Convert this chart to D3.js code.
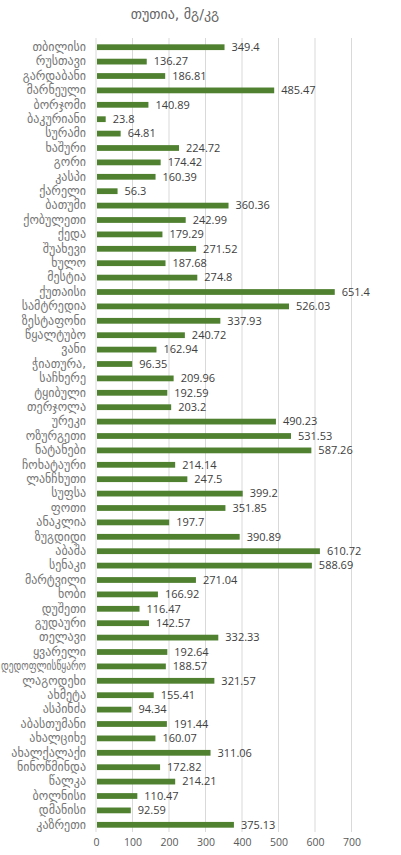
<!DOCTYPE html>
<html>
<head>
<meta charset="utf-8">
<script src="https://cdn.jsdelivr.net/npm/d3@7"></script>
<style>
  html, body { margin: 0; padding: 0; background: #ffffff; }
  svg { display: block; }
</style>
</head>
<body>
<svg id="chart" width="401" height="855"></svg>
<script>
const title = "თუთია, მგ/კგ";
const categories = [
  "თბილისი","რუსთავი","გარდაბანი","მარნეული","ბორჯომი","ბაკურიანი","სურამი","ხაშური","გორი","კასპი",
  "ქარელი","ბათუმი","ქობულეთი","ქედა","შუახევი","ხულო","მესტია","ქუთაისი","სამტრედია","ზესტაფონი",
  "წყალტუბო","ვანი","ჭიათურა,","საჩხერე","ტყიბული","თერჯოლა","ურეკი","ოზურგეთი","ნატანები","ჩოხატაური",
  "ლანჩხუთი","სუფსა","ფოთი","ანაკლია","ზუგდიდი","აბაშა","სენაკი","მარტვილი","ხობი","დუშეთი",
  "გუდაური","თელავი","ყვარელი","დედოფლისწყარო","ლაგოდეხი","ახმეტა","ასპინძა","აბასთუმანი","ახალციხე","ახალქალაქი",
  "ნინოწმინდა","წალკა","ბოლნისი","დმანისი","კაზრეთი"
];
const values = [
  349.4,136.27,186.81,485.47,140.89,23.8,64.81,224.72,174.42,160.39,
  56.3,360.36,242.99,179.29,271.52,187.68,274.8,651.4,526.03,337.93,
  240.72,162.94,96.35,209.96,192.59,203.2,490.23,531.53,587.26,214.14,
  247.5,399.2,351.85,197.7,390.89,610.72,588.69,271.04,166.92,116.47,
  142.57,332.33,192.64,188.57,321.57,155.41,94.34,191.44,160.07,311.06,
  172.82,214.21,110.47,92.59,375.13
];
const tickValues = [0,100,200,300,400,500,600,700];

const data = categories.map((c, i) => ({ name: c, value: values[i] }));

const svg = d3.select("#chart");
const margin = { left: 96, right: 50, top: 40, bottom: 23 };
const W = 401, H = 855;

const x = d3.scaleLinear().domain([0, 700]).range([margin.left, 351.5]);
const y = d3.scaleBand().domain(categories).range([margin.top, H - margin.bottom]).paddingInner(0.6).paddingOuter(0.3);

const gridTop = margin.top - 2, gridBottom = H - margin.bottom;

// title
svg.append("text")
  .attr("x", 175).attr("y", 19)
  .attr("text-anchor", "middle")
  .attr("font-family", "DejaVu Sans, sans-serif")
  .attr("font-size", 14)
  .attr("fill", "#666666")
  .text(title);

// gridlines
svg.append("g").selectAll("line")
  .data(tickValues.filter(t => t > 0))
  .join("line")
  .attr("x1", d => x(d)).attr("x2", d => x(d))
  .attr("y1", gridTop).attr("y2", gridBottom)
  .attr("stroke", "#d9d9d9").attr("stroke-width", 1);

// vertical axis line
svg.append("line")
  .attr("x1", x(0)).attr("x2", x(0))
  .attr("y1", gridTop).attr("y2", gridBottom)
  .attr("stroke", "#d9d9d9").attr("stroke-width", 1);

// x axis tick labels
const xAxis = d3.axisBottom(x).tickValues(tickValues).tickSize(0).tickPadding(0);
const gx = svg.append("g").attr("transform", `translate(0,${gridBottom + 7})`).call(xAxis);
gx.select(".domain").remove();
gx.selectAll("text")
  .attr("dy", "0.71em")
  .attr("font-family", "Open Sans, sans-serif")
  .attr("font-size", 10.5)
  .attr("fill", "#595959");

// y axis labels
const yAxis = d3.axisLeft(y).tickSize(0).tickPadding(10);
const gy = svg.append("g").attr("transform", `translate(${x(0)},0)`).call(yAxis);
gy.select(".domain").remove();
gy.selectAll("text")
  .attr("font-family", "DejaVu Sans, sans-serif")
  .attr("font-size", 12)
  .attr("fill", "#767676")
  .each(function () {
    // compress any label that would run past the left edge
    const w = this.getComputedTextLength();
    const avail = x(0) - 10 - 1;
    if (w > avail) {
      d3.select(this).attr("textLength", avail).attr("lengthAdjust", "spacingAndGlyphs");
    }
  });

// bars
svg.append("g").selectAll("rect")
  .data(data)
  .join("rect")
  .attr("x", x(0) + 1)
  .attr("y", d => y(d.name))
  .attr("width", d => x(d.value) - x(0))
  .attr("height", y.bandwidth())
  .attr("fill", "#4f8130");

// value labels
svg.append("g").selectAll("text")
  .data(data)
  .join("text")
  .attr("x", d => x(d.value) + 8)
  .attr("y", d => y(d.name) + y.bandwidth() / 2)
  .attr("dy", "0.35em")
  .attr("font-family", "Open Sans, sans-serif")
  .attr("font-size", 11)
  .attr("fill", "#404040")
  .text(d => d.value);
</script>
</body>
</html>
